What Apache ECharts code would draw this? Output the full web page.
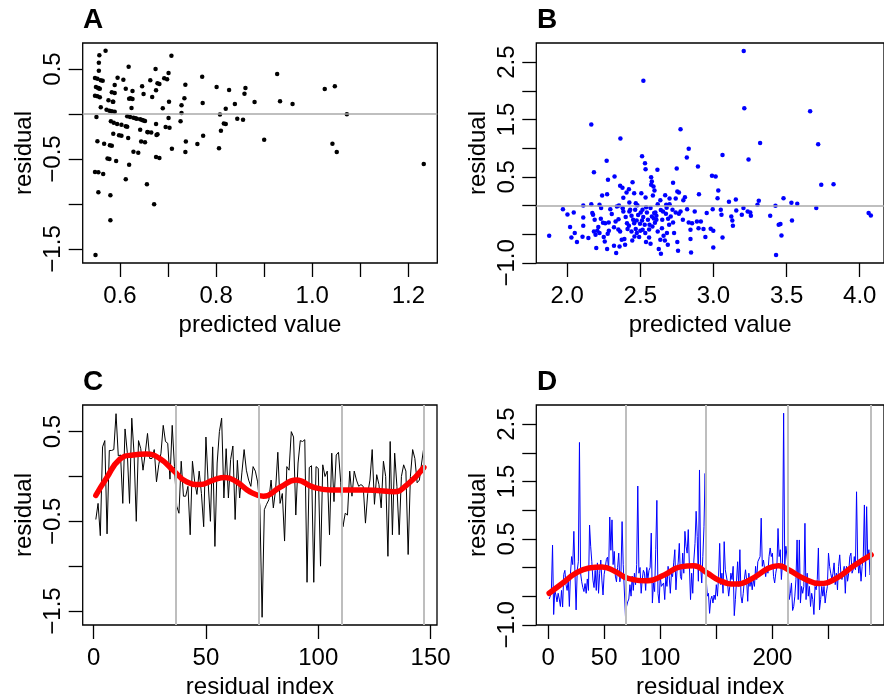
<!DOCTYPE html>
<html><head><meta charset="utf-8">
<script src="https://cdn.jsdelivr.net/npm/echarts@6/dist/echarts.min.js"></script>
<style>html,body{margin:0;padding:0;background:#fff}#c{width:884px;height:700px}</style>
</head><body><div id="c"></div>
<script>
// ---------- Panel A: predicted value vs residual ----------
const aPoints = [
[0.570,0.704],[0.557,0.652],[0.556,0.570],[0.556,0.481],[0.548,0.400],[0.553,0.393],[0.564,0.370],[0.550,0.300],[0.555,0.289],[0.558,0.281],
[0.548,0.204],[0.553,0.196],[0.558,0.185],[0.560,0.074],[0.551,-0.033],[0.572,0.048],[0.578,0.037],[0.583,0.030],[0.589,0.026],[0.576,0.152],
[0.585,0.137],[0.583,0.241],[0.589,0.233],[0.589,0.322],[0.595,0.404],[0.607,0.381],[0.612,0.281],[0.626,0.256],[0.618,0.526],[0.622,0.174],
[0.626,0.167],[0.624,0.067],[0.615,-0.026],[0.621,-0.033],[0.628,-0.041],[0.635,-0.052],[0.642,-0.059],[0.646,-0.067],[0.652,-0.078],[0.581,-0.081],
[0.587,-0.096],[0.594,-0.111],[0.603,-0.119],[0.612,-0.137],[0.615,-0.141],[0.586,-0.219],[0.598,-0.237],[0.603,-0.241],[0.617,-0.267],[0.642,-0.174],
[0.657,-0.200],[0.665,-0.207],[0.553,-0.304],[0.567,-0.330],[0.579,-0.348],[0.583,-0.352],[0.644,-0.307],[0.652,-0.315],[0.574,-0.496],[0.578,-0.500],
[0.592,-0.522],[0.619,-0.563],[0.628,-0.419],[0.638,-0.430],[0.548,-0.644],[0.555,-0.648],[0.565,-0.667],[0.612,-0.726],[0.555,-0.870],[0.580,-0.904],
[0.580,-1.181],[0.549,-1.567],[0.656,-0.781],[0.671,-1.004],[0.674,0.500],[0.663,0.374],[0.646,0.307],[0.649,0.222],[0.667,0.189],[0.675,0.263],
[0.678,0.341],[0.682,0.333],[0.692,0.396],[0.698,0.385],[0.701,0.456],[0.707,0.648],[0.702,0.137],[0.689,0.063],[0.701,-0.044],[0.675,-0.111],
[0.678,-0.226],[0.676,-0.233],[0.695,-0.144],[0.703,-0.152],[0.675,-0.478],[0.682,-0.489],[0.708,-0.385],[0.736,0.326],[0.734,0.174],[0.728,0.096],
[0.728,0.011],[0.726,-0.081],[0.737,-0.307],[0.736,-0.422],[0.771,0.415],[0.772,0.122],[0.761,-0.333],[0.773,-0.241],[0.801,0.300],[0.827,0.267],
[0.820,0.059],[0.808,-0.007],[0.839,0.111],[0.861,0.289],[0.859,0.226],[0.880,0.133],[0.816,-0.107],[0.820,-0.111],[0.810,-0.185],[0.844,-0.052],
[0.856,-0.063],[0.806,-0.381],[0.900,-0.285],[0.927,0.444],[0.933,0.141],[0.959,0.111],[1.026,0.278],[1.047,0.307],[1.072,-0.004],[1.042,-0.330],
[1.051,-0.422],[1.232,-0.556],[0.560,0.374],[0.555,0.285],[0.586,0.137],[0.619,0.170],[0.658,-0.204],[0.632,-0.048],[0.649,-0.072]
];
// ---------- Panel B: predicted value vs residual ----------
const bPoints = [
[3.207,2.693],[2.521,2.176],[3.211,1.695],[3.661,1.642],[2.165,1.410],[2.775,1.329],[2.364,1.167],[3.319,1.091],[3.716,1.068],[2.831,0.987],
[2.512,0.859],[2.818,0.836],[3.062,0.882],[2.532,0.737],[2.536,0.633],[2.617,0.621],[2.749,0.644],[2.894,0.679],[3.240,0.801],[2.270,0.778],
[2.183,0.580],[2.324,0.505],[2.279,0.447],[2.990,0.517],[3.015,0.505],[2.574,0.493],[2.579,0.418],[2.574,0.360],[2.590,0.331],[2.724,0.395],
[2.447,0.406],[2.362,0.342],[2.378,0.308],[3.737,0.360],[3.821,0.371],[2.422,0.284],[2.406,0.226],[2.458,0.215],[2.507,0.215],[2.597,0.261],
[2.586,0.174],[2.753,0.244],[2.764,0.226],[2.670,0.180],[2.901,0.197],[3.033,0.261],[3.028,0.128],[2.384,0.133],[2.239,0.174],[2.273,0.197],
[2.536,0.139],[2.637,0.093],[2.700,0.122],[2.742,0.122],[2.805,0.145],[2.794,0.093],[3.106,0.064],[3.153,0.104],[3.310,0.081],[3.479,0.128],
[3.533,0.046],[3.573,0.029],[2.425,0.052],[2.469,0.041],[2.110,0.000],[2.165,0.023],[2.221,0.012],[2.340,-0.017],[2.619,0.023],[2.677,0.012],
[3.301,0.012],[3.424,-0.006],[1.971,-0.064],[2.002,-0.157],[2.045,-0.122],[2.110,-0.209],[2.020,-0.377],[1.877,-0.528],[2.052,-0.482],[2.029,-0.557],
[2.105,-0.546],[2.067,-0.638],[2.145,-0.569],[2.110,-0.354],[2.172,-0.133],[2.177,-0.163],[2.188,-0.250],[2.183,-0.453],[2.194,-0.511],[2.206,-0.441],
[2.213,-0.377],[2.221,-0.482],[2.199,-0.743],[2.232,-0.046],[2.250,-0.551],[2.257,-0.627],[2.273,-0.760],[2.277,-0.493],[2.284,-0.296],[2.295,-0.064],
[2.320,-0.702],[2.331,-0.279],[2.335,-0.830],[2.351,-0.238],[2.358,-0.714],[2.362,-0.453],[2.373,-0.598],[2.384,-0.104],[2.391,-0.586],[2.396,-0.685],
[2.409,-0.308],[2.413,-0.412],[2.422,-0.354],[2.431,-0.075],[2.440,-0.453],[2.445,-0.609],[2.451,-0.250],[2.458,-0.308],[2.465,-0.075],[2.469,-0.412],
[2.476,-0.482],[2.485,-0.168],[2.492,-0.551],[2.498,-0.319],[2.503,-0.122],[2.512,-0.261],[2.516,-0.424],[2.530,-0.337],[2.534,-0.482],[2.539,-0.638],
[2.545,-0.122],[2.552,-0.250],[2.563,-0.337],[2.570,-0.667],[2.579,-0.192],[2.583,-0.366],[2.592,-0.226],[2.603,-0.122],[2.610,-0.250],[2.619,-0.453],
[2.626,-0.760],[2.637,-0.598],[2.641,-0.842],[2.648,-0.395],[2.655,-0.104],[2.659,-0.528],[2.668,-0.609],[2.675,-0.145],[2.682,-0.482],[2.688,-0.685],
[2.697,-0.337],[2.708,-0.192],[2.720,-0.075],[2.724,-0.296],[2.731,-0.482],[2.742,-0.122],[2.753,-0.638],[2.758,-0.789],[2.764,-0.145],[2.775,-0.104],
[2.791,-0.250],[2.820,-0.064],[2.831,-0.296],[2.843,-0.424],[2.843,-0.586],[2.847,-0.818],[2.854,-0.308],[2.872,-0.104],[2.887,-0.279],[2.898,-0.395],
[2.914,-0.279],[2.932,-0.412],[2.945,-0.551],[2.954,-0.133],[2.981,-0.406],[2.995,-0.064],[2.999,-0.441],[2.999,-0.731],[3.050,-0.075],[3.055,-0.163],
[3.062,-0.557],[3.122,-0.192],[3.129,-0.261],[3.133,-0.354],[3.156,-0.087],[3.194,-0.163],[3.205,-0.046],[3.234,-0.104],[3.252,-0.122],[3.256,-0.180],
[3.388,-0.180],[3.446,-0.337],[3.458,-0.325],[3.465,-0.522],[3.428,-0.865],[3.537,-0.261],[3.703,-0.046],[4.061,-0.133],[4.076,-0.174],
[2.354,0.000],[2.380,-0.050],[2.425,-0.105],[2.480,0.005],[2.515,-0.075],[2.570,-0.045],[2.595,-0.130],[2.640,-0.080],[2.680,-0.040],[2.700,0.020],
[2.305,-0.150],[2.260,-0.310],[2.285,-0.440],[2.230,-0.230],[2.245,-0.300],[2.400,-0.200],[2.440,-0.180],[2.475,-0.260],[2.500,-0.440],[2.560,-0.420],
[2.600,-0.300],[2.650,-0.250],[2.560,-0.560],[2.350,-0.420],[2.320,-0.380],[2.460,-0.540],[2.520,-0.200],[2.610,-0.180],[2.690,-0.230],[2.540,-0.030]
];
// ---------- Panel C: residuals in index order (1..147) ----------
const cResid = [
-0.48,-0.30,-0.66,0.33,0.40,-0.64,0.29,0.29,0.30,0.70,
0.23,0.24,-0.30,0.53,0.27,-0.30,0.65,0.26,-0.50,0.40,
0.31,0.07,0.26,0.48,0.20,0.20,0.30,-0.06,0.13,0.26,
0.57,0.39,0.37,-0.03,0.57,0.11,-0.33,-0.41,0.17,-0.22,
-0.22,-0.11,-0.65,0.17,-0.06,-0.20,0.06,-0.19,-0.56,0.44,
-0.07,-0.50,0.33,-0.78,0.15,0.50,0.65,-0.24,0.31,-0.24,
0.19,0.34,-0.48,0.18,-0.24,0.04,0.30,0.07,-0.04,-0.11,
0.11,0.06,-0.06,-0.33,-1.57,-0.37,-0.31,-0.26,-0.04,-0.35,
-0.15,0.27,-0.30,-0.19,-0.72,0.11,0.07,0.50,0.44,-0.43,
0.15,0.40,0.39,0.41,-1.18,0.10,0.12,-1.18,0.11,0.09,
-1.00,0.13,0.00,0.06,-0.65,0.26,-0.28,0.24,0.27,-0.07,
-0.56,-0.41,-0.43,0.06,-0.22,0.06,-0.04,-0.11,-0.09,-0.11,
-0.52,-0.19,-0.04,0.30,-0.31,0.02,-0.09,-0.35,0.17,0.00,
-0.89,0.39,-0.65,0.26,-0.11,-0.65,0.00,0.13,0.06,-0.87,
0.00,0.30,0.20,-0.07,-0.04,0.15,0.33
];
const cSmoothIdx = [1,5.7,11.6,17.6,23.5,29.5,35.4,41.4,47.3,53.3,58.5,63.7,69.6,75.6,83,90.2,97.9,105.4,112.8,120.2,127.7,133.6,139.6,147];
const cSmoothVal = [-0.21,-0.02,0.19,0.24,0.25,0.20,0.07,-0.06,-0.09,-0.04,-0.01,-0.06,-0.17,-0.22,-0.12,-0.04,-0.12,-0.15,-0.15,-0.15,-0.16,-0.17,-0.09,0.10];
const cDividers = [36.75,73.5,110.25,147];
// ---------- Panel D: residuals in index order (1..288) ----------
const dResid = [
-0.55,-0.50,-0.38,0.39,-0.82,-0.40,-0.48,-0.60,-0.45,-0.55,
-0.68,-0.40,-0.69,-0.12,-0.05,-0.30,-0.40,-0.20,-0.68,-0.10,
0.19,0.05,0.63,-0.10,-0.74,-0.05,0.10,2.18,-0.10,-0.25,
-0.35,-0.42,-0.28,-0.45,-0.20,-0.40,0.74,0.37,0.10,-0.22,
-0.35,-0.05,-0.40,0.08,-0.45,-0.10,0.13,-0.22,-0.48,-0.12,
0.00,0.14,0.18,-0.05,0.88,0.30,0.83,0.05,0.28,-0.15,
-0.25,0.00,0.25,-0.25,-0.10,0.80,0.05,0.08,-0.85,-0.68,
-0.60,-0.55,-0.30,-0.50,-0.15,-0.40,-0.10,-0.30,0.05,1.42,
-0.10,0.00,-0.45,-0.20,-0.05,-0.10,-0.40,0.00,-0.20,-0.05,
0.00,0.60,
-0.62,-0.27,-0.42,0.31,1.17,-0.45,-0.62,-0.16,-0.33,-0.33,
-0.27,-0.56,-0.16,-0.33,0.02,-0.16,-0.45,-0.10,-0.16,0.08,
0.31,-0.39,-0.04,0.08,0.42,-0.16,-0.21,0.25,-0.10,0.63,
0.37,0.25,0.66,0.02,-0.56,-0.10,-0.45,0.13,0.42,0.98,
0.54,-0.24,1.70,0.02,-0.27,0.19,0.71,1.64,-0.21,-0.50,
-0.45,-0.80,-0.56,-0.50,-0.62,-0.48,-0.56,-0.30,-0.50,-0.16,
0.42,-0.30,-0.10,-0.45,0.45,-0.04,-0.01,-0.27,-0.50,-0.33,
-0.10,-0.21,0.02,-0.84,-0.56,-0.24,0.10,-0.33,0.31,-0.50,
-0.62,-0.45,-0.21,-0.04,-0.21,-0.59,-0.10,-0.33,-0.21,-0.39,
-0.21,-0.33,0.02,-0.21,0.10,0.13,0.19,0.86,0.02,0.13,
0.10,
-0.16,0.02,-0.10,0.19,0.34,0.19,0.25,-0.16,-0.27,-0.10,
0.02,0.68,0.19,0.31,-0.21,0.08,2.69,0.02,0.37,0.37,
0.02,-0.56,-0.45,-0.27,-0.75,-0.68,-0.50,-0.21,0.48,-0.56,
0.48,-0.62,-0.33,-0.45,-0.33,0.77,-0.56,-0.10,-0.50,-0.33,
-0.68,-0.45,-0.56,-0.82,-0.33,-0.39,-0.21,0.34,-0.74,-0.56,
-0.33,-0.50,-0.33,-0.62,-0.45,-0.33,0.25,0.02,-0.10,-0.21,
-0.10,0.08,-0.30,-0.10,-0.39,0.02,0.22,-0.10,-0.21,-0.10,
0.02,-0.45,0.02,-0.24,-0.10,0.19,0.25,-0.10,-0.04,0.19,
-0.04,1.32,0.13,-0.10,0.08,-0.24,0.02,0.19,1.09,-0.16,
1.06,0.13,0.31,-0.13,-0.10
];
const dSmoothIdx = [1,13.1,24.8,36.5,48.1,59.8,71.4,88.9,103.5,118,129.8,141.4,153,167.6,182.2,196.8,205.5,214.3,228.9,242,255.1,272.6,288];
const dSmoothVal = [-0.45,-0.27,-0.10,-0.01,0.01,-0.07,-0.19,-0.23,-0.13,0.01,0.03,-0.09,-0.23,-0.29,-0.19,-0.01,0.03,-0.04,-0.20,-0.28,-0.21,0.03,0.22];
const dDividers = [69,141,214,288];
// ---------- ticks and labels ----------
const aXTicks = [0.6,0.7,0.8,0.9,1.0,1.1,1.2], aXLabels = [0.6,0.8,1.0,1.2];
const aYTicks = [-1.5,-1.0,-0.5,0,0.5], aYLabels = [-1.5,-0.5,0.5];
const bXTicks = [2.0,2.5,3.0,3.5,4.0], bXLabels = [2.0,2.5,3.0,3.5,4.0];
const bYTicks = [-1.0,-0.5,0,0.5,1.0,1.5,2.0,2.5], bYLabels = [-1.0,0.5,1.5,2.5];
const cXTicks = [0,50,100,150], cXLabels = [0,50,100,150];
const dXTicks = [0,50,100,150,200,250], dXLabels = [0,50,100,200];
const panelTitles = ['A','B','C','D'];

const FONT = 'Liberation Sans, Arial, Helvetica, sans-serif';
const FS = 24;
const fmt = d => v => v.toFixed(d).replace('-', '\u2212');

function xAx(gi, min, max, ticks, labels, dec, name) {
  return {type:'value', gridIndex:gi, min, max, name, nameLocation:'middle', nameGap:50,
    nameTextStyle:{fontFamily:FONT, fontSize:FS, color:'#000'},
    axisLine:{show:false, onZero:false}, splitLine:{show:false},
    axisTick:{show:true, length:14, inside:false, customValues:ticks, lineStyle:{color:'#000', width:1.3}},
    axisLabel:{show:true, customValues:labels, margin:21, formatter:fmt(dec), fontFamily:FONT, fontSize:FS, color:'#000'}};
}
function yAx(gi, min, max, ticks, labels, dec, name) {
  return {type:'value', gridIndex:gi, min, max, name, nameLocation:'middle', nameGap:46,
    nameTextStyle:{fontFamily:FONT, fontSize:FS, color:'#000'},
    axisLine:{show:false, onZero:false}, splitLine:{show:false},
    axisTick:{show:true, length:14, inside:false, customValues:ticks, lineStyle:{color:'#000', width:1.3}},
    axisLabel:{show:true, rotate:90, customValues:labels, margin:17, formatter:fmt(dec), fontFamily:FONT, fontSize:FS, color:'#000'}};
}
const gridStyle = {show:true, borderColor:'#000', borderWidth:1.3, backgroundColor:'transparent', containLabel:false};
const grids = [
  Object.assign({left:82.7, top:43, width:354.6, height:220}, gridStyle),
  Object.assign({left:536.3, top:43, width:354.5, height:220}, gridStyle),
  Object.assign({left:82.7, top:405, width:354.3, height:220.7}, gridStyle),
  Object.assign({left:536.3, top:405, width:354.5, height:220.3}, gridStyle)
];
const titlePos = [[83,6],[537,6],[83,368],[537,368]];
const titles = panelTitles.map((t,i)=>({text:t, left:titlePos[i][0], top:titlePos[i][1], padding:0,
  textStyle:{fontFamily:FONT, fontSize:28, fontWeight:'bold', color:'#000'}}));

const hLine = {silent:true, symbol:'none', label:{show:false}, lineStyle:{color:'#aaaaaa', width:1.6, type:'solid'}, data:[{yAxis:0}]};
const vLines = arr => ({silent:true, symbol:'none', label:{show:false}, lineStyle:{color:'#bebebe', width:2, type:'solid'}, data:arr.map(v=>({xAxis:v}))});

const cData = cResid.map((v,i)=>[i+1,v]);
const dData = dResid.map((v,i)=>[i+1,v]);
const cSmooth = cSmoothIdx.map((x,i)=>[x,cSmoothVal[i]]);
const dSmooth = dSmoothIdx.map((x,i)=>[x,dSmoothVal[i]]);

const option = {
  backgroundColor:'#fff', animation:false, title:titles, grid:grids,
  xAxis:[
    xAx(0,0.5224,1.2602,aXTicks,aXLabels,1,'predicted value'),
    xAx(1,1.789,4.166,bXTicks,bXLabels,1,'predicted value'),
    xAx(2,-4.84,152.84,cXTicks,cXLabels,0,'residual index'),
    xAx(3,-10.48,299.48,dXTicks,dXLabels,0,'residual index')
  ],
  yAxis:[
    yAx(0,-1.656,0.789,aYTicks,aYLabels,1,'residual'),
    yAx(1,-1.003,2.833,bYTicks,bYLabels,1,'residual'),
    yAx(2,-1.656,0.797,aYTicks,aYLabels,1,'residual'),
    yAx(3,-1.003,2.833,bYTicks,bYLabels,1,'residual')
  ],
  series:[
    {type:'scatter', xAxisIndex:0, yAxisIndex:0, data:aPoints, symbolSize:4.5, itemStyle:{color:'#000', opacity:1}, markLine:hLine, z:2},
    {type:'scatter', xAxisIndex:1, yAxisIndex:1, data:bPoints, symbolSize:4.5, itemStyle:{color:'#0000ff', opacity:1}, markLine:hLine, z:2},
    {type:'line', xAxisIndex:2, yAxisIndex:2, data:cData, symbol:'none', lineStyle:{color:'#000', width:1}, markLine:vLines(cDividers), z:2},
    {type:'line', xAxisIndex:2, yAxisIndex:2, data:cSmooth, symbol:'none', smooth:0.5, lineStyle:{color:'#ff0000', width:5.5, cap:'round'}, z:3},
    {type:'line', xAxisIndex:3, yAxisIndex:3, data:dData, symbol:'none', lineStyle:{color:'#0000ff', width:1}, markLine:vLines(dDividers), z:2},
    {type:'line', xAxisIndex:3, yAxisIndex:3, data:dSmooth, symbol:'none', smooth:0.5, lineStyle:{color:'#ff0000', width:5.5, cap:'round'}, z:3}
  ]
};
const chart = echarts.init(document.getElementById('c'), null, {renderer:'canvas'});
chart.setOption(option);
</script></body></html>
